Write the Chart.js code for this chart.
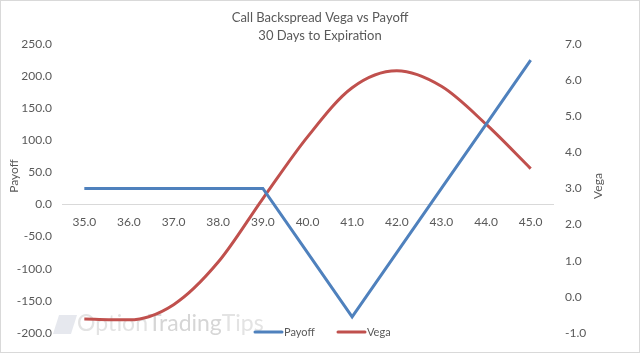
<!DOCTYPE html>
<html><head><meta charset="utf-8">
<script src="https://cdn.jsdelivr.net/npm/chart.js@4"></script>
<style>
html,body{margin:0;padding:0;background:#fff;}
#wrap{width:640px;height:353px;box-sizing:border-box;border:1px solid #d9d9d9;position:relative;}
canvas{display:block;}
</style></head><body>
<div id="wrap"><canvas id="c" width="638" height="351"></canvas></div>
<script>
const categories = ['35.0','36.0','37.0','38.0','39.0','40.0','41.0','42.0','43.0','44.0','45.0'];
const payoff = [25, 25, 25, 25, 25, -75, -175, -75, 25, 125, 225];
const vega = [-0.62, -0.64, -0.22, 0.96, 2.72, 4.43, 5.79, 6.26, 5.83, 4.78, 3.55];
const titleLines = ['Call Backspread Vega vs Payoff', '30 Days to Expiration'];
const leftTitle = 'Payoff';
const rightTitle = 'Vega';
const watermark = ['Option', 'Trading', 'Tips'];

const FONT = 'Lato, "Open Sans", sans-serif';
const TXT = '#595959';

const extras = {
  id: 'extras',
  beforeDatasetsDraw(chart) {
    const ctx = chart.ctx;
    ctx.save();
    ctx.font = '23px ' + FONT;
    ctx.textBaseline = 'middle';
    const cols = ['#e3e3e3', '#d6d6d6', '#e3e3e3'];
    ctx.fillStyle = '#e6e8ee';
    ctx.beginPath();
    ctx.moveTo(52, 333); ctx.lineTo(58, 314); ctx.lineTo(76, 314); ctx.lineTo(70, 333); ctx.closePath();
    ctx.fill();
    let x = 76;
    watermark.forEach((w, i) => {
      ctx.fillStyle = cols[i];
      ctx.fillText(w, x, 323);
      x += ctx.measureText(w).width;
    });
    ctx.restore();
  },
  afterDraw(chart) {
    const ctx = chart.ctx;
    ctx.save();
    ctx.fillStyle = TXT;
    ctx.font = '12px ' + FONT;
    ctx.textAlign = 'center';
    ctx.textBaseline = 'middle';
    ctx.save(); ctx.translate(13, 175); ctx.rotate(-Math.PI / 2); ctx.fillText(leftTitle, 0, 0); ctx.restore();
    ctx.save(); ctx.translate(597, 185); ctx.rotate(-Math.PI / 2); ctx.fillText(rightTitle, 0, 0); ctx.restore();
    let x = 254;
    const y = 331;
    chart.data.datasets.forEach(ds => {
      ctx.strokeStyle = ds.borderColor;
      ctx.lineWidth = 3;
      ctx.lineCap = 'round';
      ctx.beginPath(); ctx.moveTo(x, y); ctx.lineTo(x + 27, y); ctx.stroke();
      ctx.textAlign = 'left';
      ctx.fillStyle = TXT;
      ctx.font = '11px ' + FONT;
      ctx.fillText(ds.label, x + 29, y);
      x += 83;
    });
    ctx.restore();
  }
};

new Chart(document.getElementById('c'), {
  type: 'line',
  data: {
    labels: categories,
    datasets: [
      { label: 'Payoff', data: payoff, yAxisID: 'y', borderColor: '#4F81BD', backgroundColor: '#4F81BD', borderWidth: 3, pointRadius: 0, tension: 0 },
      { label: 'Vega', data: vega, yAxisID: 'y1', borderColor: '#C0504D', backgroundColor: '#C0504D', borderWidth: 3, pointRadius: 0, tension: 0.4, cubicInterpolationMode: 'monotone' }
    ]
  },
  options: {
    responsive: false,
    animation: false,
    layout: { padding: { left: 0, right: 0, top: 0, bottom: 15 } },
    plugins: {
      legend: { display: false },
      tooltip: { enabled: false },
      title: {
        display: true,
        text: titleLines,
        color: TXT,
        font: { family: FONT, size: 13, weight: 'normal', lineHeight: 1.35 },
        padding: { top: 8, bottom: 0 }
      }
    },
    scales: {
      x: {
        type: 'category',
        position: { y: 0 },
        offset: true,
        grid: { display: false, drawTicks: false },
        border: { display: true, color: '#d9d9d9', width: 1 },
        ticks: { color: TXT, font: { family: FONT, size: 12 }, padding: 10, maxRotation: 0, autoSkip: false }
      },
      y: {
        position: 'left',
        min: -200, max: 250,
        grid: { display: false, drawTicks: false },
        border: { display: false },
        ticks: { stepSize: 50, color: TXT, font: { family: FONT, size: 12 }, padding: 10, callback: v => Number(v).toFixed(1) },
        afterFit(s) { s.width = 61; }
      },
      y1: {
        position: 'right',
        min: -1, max: 7,
        grid: { display: false, drawTicks: false },
        border: { display: false },
        ticks: { stepSize: 1, color: TXT, font: { family: FONT, size: 12 }, padding: 12, callback: v => Number(v).toFixed(1) },
        afterFit(s) { s.width = 86; }
      }
    }
  },
  plugins: [extras]
});
</script>
</body></html>
